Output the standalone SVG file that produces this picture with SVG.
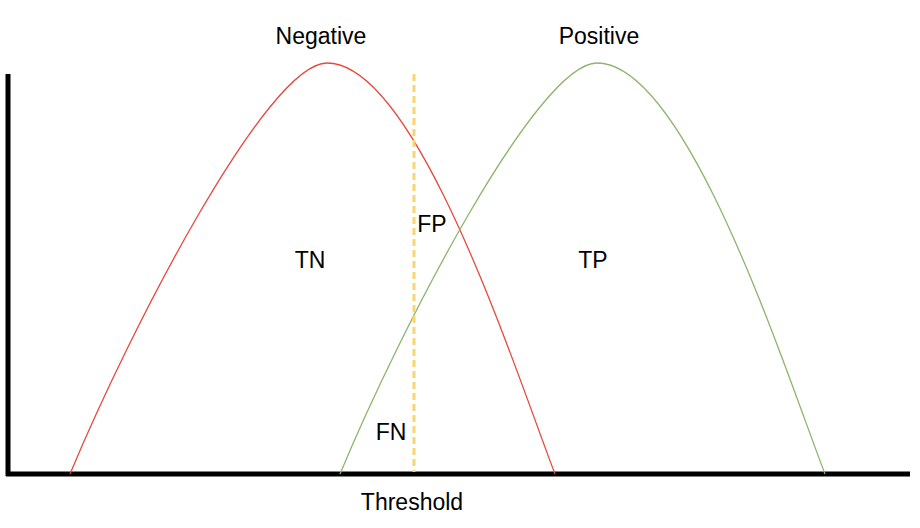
<svg xmlns="http://www.w3.org/2000/svg" width="920" height="528" viewBox="0 0 920 528">
<style>
.lbl{font-family:"Liberation Sans",Arial,sans-serif;font-size:23px;fill:#000;text-anchor:middle}
.curve{fill:none;stroke-width:1.3}
</style>
<defs>
<path id="bell" d="M0,474 C60,330 197,63 257,63 C347,63 445,370 485,474"/>
</defs>
<rect width="920" height="528" fill="#fff"/>
<g id="axes">
<line x1="8" y1="74" x2="8" y2="476" stroke="#000" stroke-width="5"/>
<line x1="6" y1="474" x2="910" y2="474" stroke="#000" stroke-width="5"/>
</g>
<g id="negative">
<use href="#bell" x="70" class="curve" stroke="#E5493F"/>
<text class="lbl" x="321" y="44">Negative</text>
</g>
<g id="positive">
<use href="#bell" x="340" class="curve" stroke="#8DB56D"/>
<text class="lbl" x="599" y="44">Positive</text>
</g>
<g id="threshold">
<line x1="414" y1="74" x2="414" y2="472" stroke="#F7D571" stroke-width="3" stroke-dasharray="7,4"/>
<text class="lbl" x="412" y="510">Threshold</text>
</g>
<g id="labels">
<text class="lbl" x="310" y="268">TN</text>
<text class="lbl" x="593" y="268">TP</text>
<text class="lbl" x="432" y="232">FP</text>
<text class="lbl" x="391" y="440">FN</text>
</g>
</svg>
